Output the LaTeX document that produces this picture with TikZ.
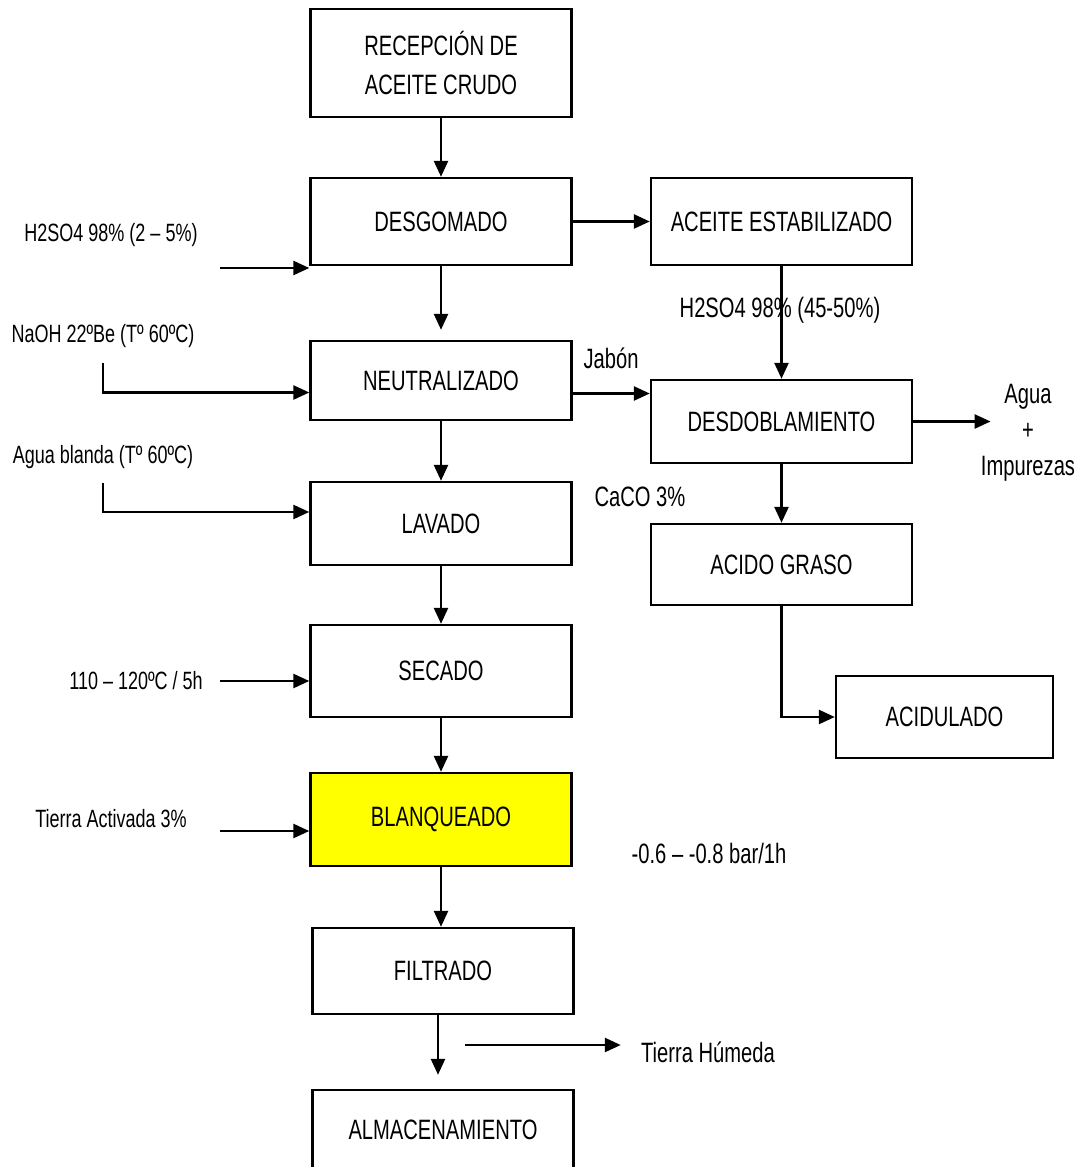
\documentclass[tikz,border=0pt]{standalone}
\usepackage{fontspec}
\setmainfont{Liberation Sans}[FakeStretch=0.72]
\usetikzlibrary{arrows.meta,positioning}
\definecolor{bleachYellow}{RGB}{255,255,0}

\begin{document}
\begin{tikzpicture}[x=0.5pt,y=-0.5pt,
  stage/.style={rectangle,draw=black,line width=1.2pt,fill=#1,
                minimum width=130.5pt,inner sep=2pt,align=center,
                font=\fontsize{14}{19.5}\selectfont},
  stage/.default=white,
  flow/.style={-{Triangle[length=8pt,width=7pt]},line width=1.3pt},
  feed/.style={inner sep=0pt,align=center,font=\fontsize{12.5}{15}\selectfont},
  side/.style={inner sep=0pt,align=center,font=\fontsize{14}{18}\selectfont}
]
\useasboundingbox (0,0) rectangle (1086,1167);
% Main line
\node[stage,minimum height=54pt] (recep) at (441,63) {RECEPCIÓN DE\\ACEITE CRUDO};
\node[stage,minimum height=43.5pt] (desgom) at (441,221.5) {DESGOMADO};
\node[stage,minimum height=39.5pt] (neutra) at (441,380.5) {NEUTRALIZADO};
\node[stage,minimum height=41.5pt] (lavado) at (441,523.5) {LAVADO};
\node[stage,minimum height=46pt] (secado) at (441,671) {SECADO};
\node[stage=bleachYellow,minimum height=46.5pt] (blanq) at (441,819.5) {BLANQUEADO};
\node[stage,minimum height=43pt] (filtra) at (443,971) {FILTRADO};
\node[stage,minimum height=40pt] (almac) at (443,1130) {ALMACENAMIENTO};
% Side line
\node[stage,minimum height=43.5pt] (estab) at (781.5,221.5) {ACEITE ESTABILIZADO};
\node[stage,minimum height=41.5pt] (desdob) at (781.5,421.5) {DESDOBLAMIENTO};
\node[stage,minimum height=40.5pt] (acido) at (781.5,564.5) {ACIDO GRASO};
\node[stage,minimum width=108.5pt,minimum height=41pt] (acidul) at (944.5,717) {ACIDULADO};
% Inputs on the left
\node[feed] (h2so4) at (111,235) {H2SO4 98\% (2 – 5\%)};
\node[feed] (naoh) at (103,336) {NaOH 22ºBe (Tº 60ºC)};
\node[feed] (agua) at (103,457) {Agua blanda (Tº 60ºC)};
\node[feed] (temp) at (136,681) {110 – 120ºC / 5h};
\node[feed] (tierra) at (111,819) {Tierra Activada 3\%};
\coordinate (h2in) at (220,268);
\coordinate (naohin) at (103,363);
\coordinate (aguain) at (103,483);
\coordinate (tempin) at (220,681);
\coordinate (tierrain) at (220,831);
\coordinate (humin) at (465,1045);
% Other labels
\node[side] (acid2) at (780,310) {H2SO4 98\% (45-50\%)};
\node[side] (jabon) at (611,358) {Jabón};
\node[side] (caco) at (640,497) {CaCO 3\%};
\node[side] (vacio) at (709,853) {-0.6 – -0.8 bar/1h};
\node[side] (impur) at (1028,433) {Agua\\+\\Impurezas};
\node[side] (humeda) at (708,1052) {Tierra Húmeda};
% Arrows
\draw[flow] (recep) -- (desgom);
\draw[flow,shorten >=5pt] (desgom) -- (neutra);
\draw[flow] (desgom) -- (estab);
\draw[flow] (neutra) -- (lavado);
\draw[flow] (lavado) -- (secado);
\draw[flow] (secado) -- (blanq);
\draw[flow] (blanq) -- (blanq |- filtra.north);
\draw[flow,shorten >=7pt] ([xshift=-2.5pt]filtra.south) -- ([xshift=-2.5pt]almac.north);
\draw[flow] (h2in) -- (h2in -| desgom.west);
\draw[flow] (naohin) |- ([yshift=-6pt]neutra.west);
\draw[flow] (aguain) |- ([yshift=5.75pt]lavado.west);
\draw[flow] (tempin) -- (tempin -| secado.west);
\draw[flow] (tierrain) -- (tierrain -| blanq.west);
\draw[flow] ([yshift=-6.5pt]neutra.east) -- ([yshift=-6.5pt]neutra.east -| desdob.west);
\draw[flow] (estab) -- (desdob);
\draw[flow] (desdob) -- (acido);
\draw[flow] (acido) |- (acidul);
\draw[flow] (desdob.east) -- ([xshift=5pt]desdob.east -| impur.west);
\draw[flow,shorten >=10pt] (humin) -- (humin -| humeda.west);
\end{tikzpicture}
\end{document}
